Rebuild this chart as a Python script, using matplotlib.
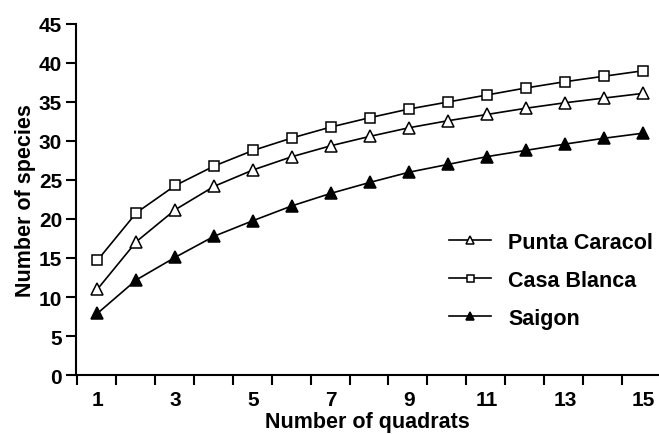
import numpy as np
import matplotlib
matplotlib.use("Agg")
import matplotlib.pyplot as plt

plt.rcParams['font.family'] = ['Liberation Sans', 'DejaVu Sans']
plt.rcParams['font.weight'] = 'bold'

# number of quadrats
quadrats = np.arange(1, 16)
# species accumulation per site
punta_caracol = [11.0, 17.1, 21.2, 24.2, 26.3, 28.0, 29.4, 30.6, 31.7, 32.6, 33.4, 34.2, 34.9, 35.5, 36.1]
casa_blanca = [14.7, 20.8, 24.3, 26.8, 28.8, 30.4, 31.8, 33.0, 34.1, 35.0, 35.9, 36.8, 37.6, 38.3, 39.0]
saigon = [7.9, 12.2, 15.1, 17.8, 19.8, 21.7, 23.3, 24.7, 26.0, 27.0, 28.0, 28.8, 29.6, 30.35, 31.0]

x_labels = ['1', '3', '5', '7', '9', '11', '13', '15']
y_ticks = np.arange(0, 50, 5)

fig = plt.figure(figsize=(6.59, 4.35), dpi=100)
ax = fig.add_axes([0.1153, 0.1356, 0.884, 0.807])

ax.plot(quadrats, punta_caracol, color='black', lw=1.2, marker='^', ms=8,
        mfc='white', mec='black', mew=1.1, label='Punta Caracol')
ax.plot(quadrats, casa_blanca, color='black', lw=1.2, marker='s', ms=7.2,
        mfc='white', mec='black', mew=1.1, label='Casa Blanca')
ax.plot(quadrats, saigon, color='black', lw=1.2, marker='^', ms=8,
        mfc='black', mec='black', mew=1.1, label='Saigon')

ax.set_xlim(0.45, 15.4)
ax.set_ylim(0, 45)

# tick marks between quadrats, labels on odd quadrats
ax.set_xticks(np.arange(0.47, 15, 1.0))
ax.set_xticklabels([])
ax.set_xticks(np.arange(1, 16, 2), minor=True)
ax.set_xticklabels(x_labels, minor=True)
ax.tick_params(axis='x', which='major', direction='out', length=7, width=1.5)
ax.tick_params(axis='x', which='minor', length=0, pad=11, labelsize=15)
ax.set_yticks(y_ticks)
ax.tick_params(axis='y', direction='out', length=7, width=1.5, labelsize=15, pad=3)

for s in ['top', 'right']:
    ax.spines[s].set_visible(False)
for s in ['left', 'bottom']:
    ax.spines[s].set_linewidth(1.5)

ax.set_xlabel('Number of quadrats', fontsize=15.5, fontweight='bold', labelpad=1)
ax.set_ylabel('Number of species', fontsize=15.5, fontweight='bold', labelpad=2)

ax.legend(loc='center left', bbox_to_anchor=(0.607, 0.27), frameon=False,
          handlelength=1.95, handletextpad=0.8, labelspacing=0.8, markerscale=0.7,
          prop={'weight': 'bold', 'size': 15.5})

fig.savefig('out.png', dpi=100)
